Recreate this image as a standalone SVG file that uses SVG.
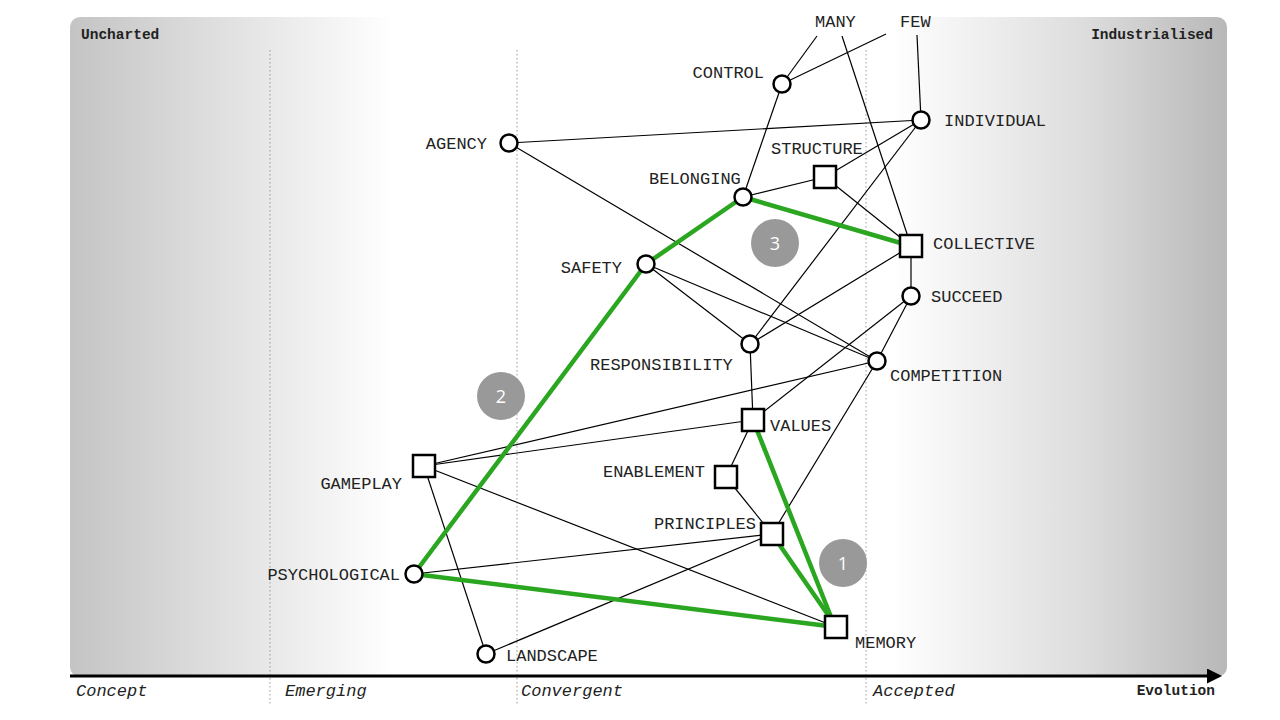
<svg xmlns="http://www.w3.org/2000/svg" width="1280" height="720" viewBox="0 0 1280 720">
<defs>
<linearGradient id="bg" x1="70" y1="0" x2="1227" y2="0" gradientUnits="userSpaceOnUse">
<stop offset="0" stop-color="#c4c4c4"/>
<stop offset="0.28" stop-color="#ffffff"/>
<stop offset="0.71" stop-color="#ffffff"/>
<stop offset="0.88" stop-color="#dcdcdc"/>
<stop offset="1" stop-color="#b8b8b8"/>
</linearGradient>
<marker id="arr" viewBox="0 0 10 10" refX="8" refY="5" markerWidth="5" markerHeight="5" orient="auto" markerUnits="strokeWidth">
<path d="M0,0 L10,5 L0,10 z" fill="#000"/>
</marker>
<style>
.lbl{font-family:"Liberation Mono","Courier New",monospace;font-size:17px;fill:#222}
.stage{font-family:"Liberation Mono","Courier New",monospace;font-size:17px;font-style:italic;fill:#222}
.corner{font-family:"Liberation Mono","Courier New",monospace;font-size:14.5px;font-weight:bold;fill:#222}
.dot{stroke:#999;stroke-width:1;stroke-dasharray:1.5 2.5;fill:none}
.e{stroke:#000;stroke-width:1.2;fill:none}
.g{stroke:#2aa620;stroke-width:4.5;fill:none;stroke-linecap:round}
.c{fill:#fff;stroke:#000;stroke-width:2.5}
.s{fill:#fff;stroke:#000;stroke-width:2.5}
.num{fill:#999}
.numt{font-family:"Open Sans","Liberation Sans",sans-serif;font-size:18px;fill:#fff;text-anchor:middle}
</style>
</defs>
<rect x="70" y="17" width="1157" height="660" rx="10" fill="url(#bg)"/>
<g id="grid">
<line class="dot" x1="270" y1="50" x2="270" y2="706"/>
<line class="dot" x1="517" y1="50" x2="517" y2="706"/>
<line class="dot" x1="866" y1="50" x2="866" y2="706"/>
</g>
<g id="axis">
<line x1="70" y1="676" x2="1219" y2="676" stroke="#000" stroke-width="3" marker-end="url(#arr)"/>
<text class="corner" x="81" y="39">Uncharted</text>
<text class="corner" x="1213" y="39" text-anchor="end">Industrialised</text>
<text class="stage" x="76" y="696">Concept</text>
<text class="stage" x="285" y="696">Emerging</text>
<text class="stage" x="521" y="696">Convergent</text>
<text class="stage" x="873" y="696">Accepted</text>
<text class="corner" x="1215" y="695" text-anchor="end">Evolution</text>
</g>
<g id="connectors">
<line class="e" x1="817" y1="36" x2="782" y2="84"/>
<line class="e" x1="886" y1="34" x2="782" y2="84"/>
<line class="e" x1="842" y1="36" x2="911" y2="246"/>
<line class="e" x1="917" y1="35" x2="921" y2="120"/>
<line class="e" x1="782" y1="84" x2="743" y2="197"/>
<line class="e" x1="509" y1="143" x2="921" y2="120"/>
<line class="e" x1="509" y1="143" x2="877" y2="361"/>
<line class="e" x1="921" y1="120" x2="825" y2="177"/>
<line class="e" x1="921" y1="120" x2="750" y2="344"/>
<line class="e" x1="743" y1="197" x2="825" y2="177"/>
<line class="e" x1="825" y1="177" x2="911" y2="246"/>
<line class="e" x1="911" y1="246" x2="911" y2="296"/>
<line class="e" x1="911" y1="246" x2="750" y2="344"/>
<line class="e" x1="646" y1="264" x2="750" y2="344"/>
<line class="e" x1="646" y1="264" x2="877" y2="361"/>
<line class="e" x1="911" y1="296" x2="753" y2="420"/>
<line class="e" x1="911" y1="296" x2="877" y2="361"/>
<line class="e" x1="877" y1="361" x2="772" y2="534"/>
<line class="e" x1="877" y1="361" x2="424" y2="466"/>
<line class="e" x1="753" y1="420" x2="424" y2="466"/>
<line class="e" x1="750" y1="344" x2="753" y2="420"/>
<line class="e" x1="753" y1="420" x2="726" y2="477"/>
<line class="e" x1="726" y1="477" x2="772" y2="534"/>
<line class="e" x1="424" y1="466" x2="836" y2="627"/>
<line class="e" x1="424" y1="466" x2="486" y2="654"/>
<line class="e" x1="414" y1="574" x2="772" y2="534"/>
<line class="e" x1="486" y1="654" x2="772" y2="534"/>
<line class="g" x1="743" y1="197" x2="911" y2="246"/>
<line class="g" x1="743" y1="197" x2="646" y2="264"/>
<line class="g" x1="646" y1="264" x2="414" y2="574"/>
<line class="g" x1="414" y1="574" x2="836" y2="627"/>
<line class="g" x1="753" y1="420" x2="833" y2="622"/>
<line class="g" x1="772" y1="534" x2="833" y2="622"/>
</g>
<g id="many"><text class="lbl" x="815" y="27">MANY</text></g>
<g id="few"><text class="lbl" x="900" y="27">FEW</text></g>
<g id="control"><circle class="c" cx="782" cy="84" r="8.5"/><text class="lbl" x="764" y="78" text-anchor="end">CONTROL</text></g>
<g id="individual"><circle class="c" cx="921" cy="120" r="8.5"/><text class="lbl" x="944" y="126">INDIVIDUAL</text></g>
<g id="agency"><circle class="c" cx="509" cy="143" r="8.5"/><text class="lbl" x="487" y="149" text-anchor="end">AGENCY</text></g>
<g id="structure"><rect class="s" x="814" y="166" width="22" height="22"/><text class="lbl" x="771" y="154">STRUCTURE</text></g>
<g id="belonging"><circle class="c" cx="743" cy="197" r="8.5"/><text class="lbl" x="649" y="184">BELONGING</text></g>
<g id="collective"><rect class="s" x="900" y="235" width="22" height="22"/><text class="lbl" x="933" y="249">COLLECTIVE</text></g>
<g id="safety"><circle class="c" cx="646" cy="264" r="8.5"/><text class="lbl" x="622" y="273" text-anchor="end">SAFETY</text></g>
<g id="succeed"><circle class="c" cx="911" cy="296" r="8.5"/><text class="lbl" x="931" y="302">SUCCEED</text></g>
<g id="responsibility"><circle class="c" cx="750" cy="344" r="8.5"/><text class="lbl" x="590" y="370">RESPONSIBILITY</text></g>
<g id="competition"><circle class="c" cx="877" cy="361" r="8.5"/><text class="lbl" x="890" y="381">COMPETITION</text></g>
<g id="values"><rect class="s" x="742" y="409" width="22" height="22"/><text class="lbl" x="770" y="431">VALUES</text></g>
<g id="gameplay"><rect class="s" x="413" y="455" width="22" height="22"/><text class="lbl" x="402" y="489" text-anchor="end">GAMEPLAY</text></g>
<g id="enablement"><rect class="s" x="715" y="466" width="22" height="22"/><text class="lbl" x="705" y="477" text-anchor="end">ENABLEMENT</text></g>
<g id="principles"><rect class="s" x="761" y="523" width="22" height="22"/><text class="lbl" x="756" y="529" text-anchor="end">PRINCIPLES</text></g>
<g id="psychological"><circle class="c" cx="414" cy="574" r="8.5"/><text class="lbl" x="400" y="580" text-anchor="end">PSYCHOLOGICAL</text></g>
<g id="memory"><rect class="s" x="825" y="616" width="22" height="22"/><text class="lbl" x="855" y="648">MEMORY</text></g>
<g id="landscape"><circle class="c" cx="486" cy="654" r="8.5"/><text class="lbl" x="506" y="661">LANDSCAPE</text></g>
<g id="badge1"><circle class="num" cx="843" cy="563" r="24"/><text class="numt" x="843" y="570">1</text></g>
<g id="badge2"><circle class="num" cx="501" cy="396" r="24"/><text class="numt" x="501" y="403">2</text></g>
<g id="badge3"><circle class="num" cx="775" cy="243" r="24"/><text class="numt" x="775" y="250">3</text></g>
</svg>
